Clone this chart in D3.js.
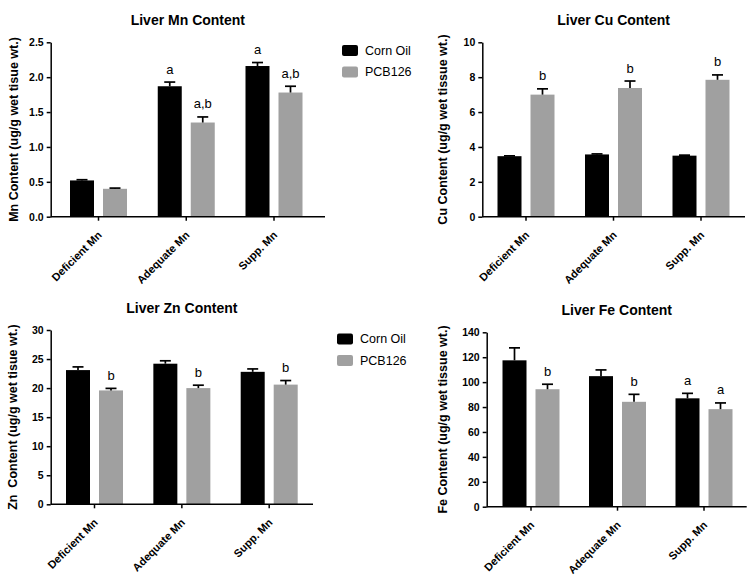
<!DOCTYPE html>
<html>
<head>
<meta charset="utf-8">
<script src="https://cdn.jsdelivr.net/npm/d3@7"></script>
<style>
  html, body { margin: 0; padding: 0; background: #fff; }
  svg { display: block; font-family: "Liberation Sans", Arial, sans-serif; }
</style>
</head>
<body>
<svg id="chart" width="755" height="579"></svg>
<script>
// ---------- data ----------
const categories = ["Deficient Mn", "Adequate Mn", "Supp. Mn"];
const seriesNames = ["Corn Oil", "PCB126"];

const mnCornOil = [0.52, 1.87, 2.16];
const mnCornOilErr = [0.01, 0.06, 0.05];
const mnPCB126 = [0.40, 1.35, 1.78];
const mnPCB126Err = [0.01, 0.08, 0.09];
const mnCornOilLetters = ["", "a", "a"];
const mnPCB126Letters = ["", "a,b", "a,b"];
const mnTicks = [0, 0.5, 1.0, 1.5, 2.0, 2.5];

const cuCornOil = [3.47, 3.57, 3.50];
const cuCornOilErr = [0.02, 0.03, 0.03];
const cuPCB126 = [7.0, 7.38, 7.85];
const cuPCB126Err = [0.33, 0.40, 0.28];
const cuCornOilLetters = ["", "", ""];
const cuPCB126Letters = ["b", "b", "b"];
const cuTicks = [0, 2, 4, 6, 8, 10];

const znCornOil = [23.1, 24.2, 22.8];
const znCornOilErr = [0.55, 0.5, 0.5];
const znPCB126 = [19.6, 20.0, 20.6];
const znPCB126Err = [0.35, 0.5, 0.7];
const znCornOilLetters = ["", "", ""];
const znPCB126Letters = ["b", "b", "b"];
const znTicks = [0, 5, 10, 15, 20, 25, 30];

const feCornOil = [117.5, 104.8, 87.0];
const feCornOilErr = [10.0, 5.0, 4.0];
const fePCB126 = [94.3, 84.2, 78.3];
const fePCB126Err = [4.0, 6.0, 5.0];
const feCornOilLetters = ["", "", "a"];
const fePCB126Letters = ["b", "b", "a"];
const feTicks = [0, 20, 40, 60, 80, 100, 120, 140];

// ---------- styling / layout ----------
const colors = { "Corn Oil": "#000000", "PCB126": "#a0a0a0" };
const svg = d3.select("#chart");

const panels = [
  { title: "Liver Mn Content", ylabel: "Mn Content (ug/g wet tisue wt.)",
    values: [mnCornOil, mnPCB126], errs: [mnCornOilErr, mnPCB126Err],
    letters: [mnCornOilLetters, mnPCB126Letters], ticks: mnTicks, fmt: d3.format(".1f"),
    axisX: 50.7, y0: 216.7, yTop: 42.3, xEnd: 325, c0: 98.5, c2: 274, labelX: 13,
    legend: { x: 342, y: 45 } },
  { title: "Liver Cu Content", ylabel: "Cu Content (ug/g wet tissue wt.)",
    values: [cuCornOil, cuPCB126], errs: [cuCornOilErr, cuPCB126Err],
    letters: [cuCornOilLetters, cuPCB126Letters], ticks: cuTicks, fmt: d3.format("d"),
    axisX: 482.3, y0: 216.7, yTop: 42.3, xEnd: 745, c0: 526, c2: 701, labelX: 442 },
  { title: "Liver Zn Content", ylabel: "Zn  Content (ug/g wet tisue wt.)",
    values: [znCornOil, znPCB126], errs: [znCornOilErr, znPCB126Err],
    letters: [znCornOilLetters, znPCB126Letters], ticks: znTicks, fmt: d3.format("d"),
    axisX: 50.7, y0: 504.3, yTop: 330, xEnd: 313, c0: 94.5, c2: 269.2, labelX: 12,
    legend: { x: 337, y: 333.5 } },
  { title: "Liver Fe Content", ylabel: "Fe Content (ug/g wet tissue wt.)",
    values: [feCornOil, fePCB126], errs: [feCornOilErr, fePCB126Err],
    letters: [feCornOilLetters, fePCB126Letters], ticks: feTicks, fmt: d3.format("d"),
    axisX: 486.7, y0: 506.7, yTop: 332.3, xEnd: 746.7, c0: 531, c2: 704, labelX: 442 }
];

panels.forEach(p => {
  const g = svg.append("g");
  const step = (p.c2 - p.c0) / 2;
  const x0 = d3.scaleBand().domain(categories)
    .range([p.c0 - step / 2, p.c2 + step / 2]).padding(0);
  const x1 = d3.scaleBand().domain(seriesNames)
    .range([-28.5, 28.5]).paddingInner(9 / 33).paddingOuter(0);
  const y = d3.scaleLinear().domain([p.ticks[0], p.ticks[p.ticks.length - 1]])
    .range([p.y0, p.yTop]);

  // bars
  seriesNames.forEach((s, si) => {
    categories.forEach((c, ci) => {
      const v = p.values[si][ci];
      const e = p.errs[si][ci];
      const cx = x0(c) + x0.bandwidth() / 2 + x1(s) + x1.bandwidth() / 2;
      g.append("rect")
        .attr("x", x0(c) + x0.bandwidth() / 2 + x1(s))
        .attr("y", y(v))
        .attr("width", x1.bandwidth())
        .attr("height", y(0) - y(v))
        .attr("fill", colors[s]);
      // error bar (upper only)
      g.append("line").attr("x1", cx).attr("x2", cx)
        .attr("y1", y(v)).attr("y2", y(v + e))
        .attr("stroke", "#000").attr("stroke-width", 1.7);
      g.append("line").attr("x1", cx - 5.5).attr("x2", cx + 5.5)
        .attr("y1", y(v + e)).attr("y2", y(v + e))
        .attr("stroke", "#000").attr("stroke-width", 1.7);
      const L = p.letters[si][ci];
      if (L) {
        g.append("text").attr("x", cx).attr("y", y(v + e) - 8.5)
          .attr("text-anchor", "middle").attr("font-size", 13)
          .attr("fill", "#000").text(L);
      }
    });
  });

  // y axis
  const yAxis = d3.axisLeft(y).tickValues(p.ticks).tickFormat(p.fmt)
    .tickSize(4).tickSizeOuter(0).tickPadding(3);
  const ya = g.append("g").attr("transform", `translate(${p.axisX},0)`).call(yAxis);
  ya.select(".domain").attr("stroke", "#000").attr("stroke-width", 1.5);
  ya.selectAll(".tick line").attr("stroke", "#000").attr("stroke-width", 1.5);
  ya.selectAll(".tick text").attr("font-size", 10.5).attr("font-weight", "bold")
    .attr("font-family", "'Liberation Sans', Arial, sans-serif").attr("fill", "#000");

  // x axis
  const xAxis = d3.axisBottom(x0).tickSize(4).tickSizeOuter(0).tickPadding(0);
  const xa = g.append("g").attr("transform", `translate(0,${p.y0})`).call(xAxis);
  xa.select(".domain").remove();
  xa.selectAll(".tick line").attr("stroke", "#000").attr("stroke-width", 1.5);
  xa.selectAll(".tick text")
    .attr("font-size", 11).attr("font-weight", "bold")
    .attr("font-family", "'Liberation Sans', Arial, sans-serif").attr("fill", "#000")
    .attr("text-anchor", "end")
    .attr("dy", "0")
    .attr("transform", "translate(4,19) rotate(-45)")
    .attr("y", 0).attr("x", 0);
  g.append("line").attr("x1", p.axisX).attr("x2", p.xEnd)
    .attr("y1", p.y0).attr("y2", p.y0)
    .attr("stroke", "#000").attr("stroke-width", 1.5);

  // title
  g.append("text").attr("x", (p.axisX + p.xEnd) / 2).attr("y", p.yTop - 17)
    .attr("text-anchor", "middle").attr("font-size", 14).attr("font-weight", "bold")
    .text(p.title);

  // y label
  g.append("text")
    .attr("transform", `translate(${p.labelX + 4.5},${(p.y0 + p.yTop) / 2}) rotate(-90)`)
    .attr("text-anchor", "middle").attr("font-size", 12.5).attr("font-weight", "bold")
    .style("white-space", "pre")
    .text(p.ylabel);

  // legend
  if (p.legend) {
    seriesNames.forEach((s, i) => {
      const ly = p.legend.y + i * 21.5;
      g.append("rect").attr("x", p.legend.x).attr("y", ly)
        .attr("width", 16).attr("height", 11).attr("rx", 2)
        .attr("fill", colors[s]);
      g.append("text").attr("x", p.legend.x + 23).attr("y", ly + 5.5)
        .attr("dy", "0.35em").attr("font-size", 12.5).text(s);
    });
  }
});
</script>
</body>
</html>
